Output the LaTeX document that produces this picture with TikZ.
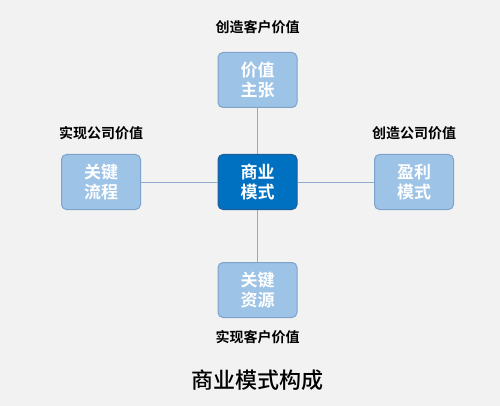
\documentclass[tikz,border=0pt]{standalone}
\usepackage{fontspec}
\newfontfamily\cjk[BoldFont={Noto Sans CJK SC Bold}]{Noto Sans CJK SC}
\newfontfamily\cjkm{Noto Sans CJK SC Medium}
\begin{document}
\begin{tikzpicture}[x=1pt,y=-1pt,
  lightbox/.style={draw=boxline,fill=boxfill,line width=1pt,rounded corners=5pt,minimum width=79pt,minimum height=55pt,inner sep=0pt,align=center,text=white,font=\cjk\bfseries\fontsize{17}{20}\selectfont},
  darkbox/.style={lightbox,draw=darkline,fill=darkfill},
  caption/.style={font=\cjk\bfseries\fontsize{14}{16}\selectfont,text=black},
  link/.style={draw=linkc,line width=1pt}]
\definecolor{bg}{HTML}{F2F2F2}
\definecolor{boxfill}{HTML}{9DC3E6}
\definecolor{boxline}{HTML}{7DA3CC}
\definecolor{darkfill}{HTML}{0070C0}
\definecolor{darkline}{HTML}{1F5D9A}
\definecolor{linkc}{HTML}{8FAACB}
\fill[bg] (0,0) rectangle (500,406);
\useasboundingbox (0,0) rectangle (500,406);
\node[darkbox] (c) at (257.5,182) {商业\\模式};
\node[lightbox] (t) at (257.5,80) {价值\\主张};
\node[lightbox] (l) at (101,182) {关键\\流程};
\node[lightbox] (r) at (414,182) {盈利\\模式};
\node[lightbox] (b) at (257.5,290) {关键\\资源};
\draw[link] (c) -- (t);
\draw[link] (c) -- (l);
\draw[link] (c) -- (r);
\draw[link] (c) -- (b);
\node[caption] (tl) at (257.5,27) {创造客户价值};
\node[caption] (ll) at (101,133) {实现公司价值};
\node[caption] (rl) at (414,133) {创造公司价值};
\node[caption] (bl) at (257.5,337) {实现客户价值};
\node[font=\cjkm\fontsize{22}{26}\selectfont,text=black] (title) at (257.5,380) {商业模式构成};
\end{tikzpicture}
\end{document}
